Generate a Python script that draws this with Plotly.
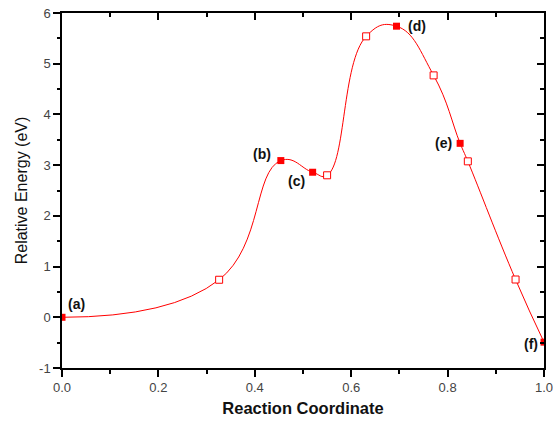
import plotly.graph_objects as go

# Stationary structures (filled squares)
stationary_labels = ["(a)", "(b)", "(c)", "(d)", "(e)", "(f)"]
stationary_x = [0.0, 0.454, 0.520, 0.694, 0.826, 1.0]
stationary_y = [0.0, 3.09, 2.86, 5.74, 3.43, -0.49]

# Intermediate images (open squares)
image_x = [0.326, 0.550, 0.631, 0.771, 0.842, 0.941]
image_y = [0.74, 2.80, 5.54, 4.77, 3.075, 0.745]

x_ticks = [0.0, 0.2, 0.4, 0.6, 0.8, 1.0]
x_tick_text = ["0.0", "0.2", "0.4", "0.6", "0.8", "1.0"]
y_ticks = [-1, 0, 1, 2, 3, 4, 5, 6]
y_tick_text = ["-1", "0", "1", "2", "3", "4", "5", "6"]

pts = sorted(zip(stationary_x + image_x, stationary_y + image_y))
curve_x = [p[0] for p in pts]
curve_y = [p[1] for p in pts]

RED = "#FF0000"
FONT = "Liberation Sans, Arial, sans-serif"

fig = go.Figure()
fig.add_trace(go.Scatter(
    x=curve_x, y=curve_y, mode="lines",
    line=dict(color=RED, width=1, shape="spline", smoothing=1.3),
    hoverinfo="skip", showlegend=False))
fig.add_trace(go.Scatter(
    x=image_x, y=image_y, mode="markers",
    marker=dict(symbol="square", size=7, color="white", line=dict(color=RED, width=1)),
    showlegend=False))
fig.add_trace(go.Scatter(
    x=stationary_x, y=stationary_y, mode="markers",
    marker=dict(symbol="square", size=7, color=RED, line=dict(width=0)),
    showlegend=False))
# dummy trace for top/right frame axes
fig.add_trace(go.Scatter(x=[0.5], y=[2], xaxis="x2", yaxis="y2", mode="markers",
                         marker=dict(opacity=0), hoverinfo="skip", showlegend=False))

label_shift = {
    "(a)": (14, 13.5), "(b)": (-19, 6.7), "(c)": (-16.4, -8.7),
    "(d)": (20.3, 0), "(e)": (-16.6, 0), "(f)": (-12.7, -2),
}
for lab, xv, yv in zip(stationary_labels, stationary_x, stationary_y):
    dx, dy = label_shift[lab]
    fig.add_annotation(x=xv, y=yv, xref="x", yref="y", text="<b>%s</b>" % lab,
                       showarrow=False, xshift=dx, yshift=dy,
                       font=dict(family=FONT, size=14, color="#111"))

axis_common = dict(showgrid=False, zeroline=False, showline=True, linecolor="black",
                   linewidth=1.5, ticklen=7, tickwidth=1.5, tickcolor="black",
                   automargin=False)

fig.update_layout(
    template="none",
    width=553, height=426,
    margin=dict(l=62, r=9, t=13, b=58, autoexpand=False),
    paper_bgcolor="white", plot_bgcolor="white",
    font=dict(family=FONT),
    xaxis=dict(range=[0, 1], tickvals=x_ticks, ticktext=x_tick_text, ticks="outside",
               ticklabeloverflow="allow",
               minor=dict(dtick=0.1, ticks="outside", ticklen=4, tickwidth=1.5, tickcolor="black"),
               tickfont=dict(size=13, color="#444"),
               title=dict(text="<b>Reaction Coordinate</b>", font=dict(size=16.5, color="#111"), standoff=8),
               **axis_common),
    yaxis=dict(range=[-1, 6], tickvals=y_ticks, ticktext=y_tick_text, ticks="outside",
               ticklabeloverflow="allow",
               minor=dict(dtick=0.5, ticks="outside", ticklen=3.5, tickwidth=1.5, tickcolor="black"),
               tickfont=dict(size=13, color="#444"),
               title=dict(text="Relative Energy (eV)", font=dict(size=16, color="#111"), standoff=7),
               **axis_common),
    xaxis2=dict(range=[0, 1], overlaying="x", side="top", tickvals=x_ticks, ticks="inside",
                showticklabels=False,
                minor=dict(dtick=0.1, ticks="inside", ticklen=4, tickwidth=1.5, tickcolor="black"),
                **axis_common),
    yaxis2=dict(range=[-1, 6], overlaying="y", side="right", tickvals=y_ticks, ticks="inside",
                showticklabels=False,
                minor=dict(dtick=0.5, ticks="inside", ticklen=4, tickwidth=1.5, tickcolor="black"),
                **axis_common),
)

fig.write_html("out.html", config={"displayModeBar": False},
               post_script="document.body.style.margin='0';")
